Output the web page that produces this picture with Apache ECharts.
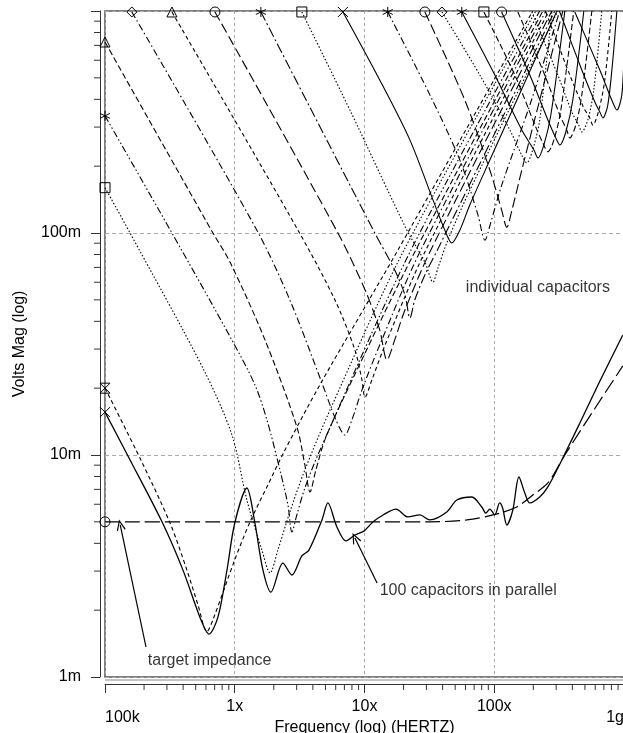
<!DOCTYPE html>
<html>
<head>
<meta charset="utf-8">
<script src="https://cdn.jsdelivr.net/npm/echarts@6/dist/echarts.min.js"></script>
<style>
  html, body { margin: 0; padding: 0; background: #fff; }
  #chart { width: 623px; height: 733px; }
</style>
</head>
<body>
<div id="chart"></div>
<script>
// Impedance magnitude sweeps: each trace is a list of [frequency (Hz), magnitude (V)] pairs.

// 100 capacitors in parallel (solid)
const parallel100 = [
  [1e5, 0.0156], [1.56e5, 0.0095], [2.75e5, 0.0050], [3.99e5, 0.00303], [5.39e5, 0.00186],
  [6.33e5, 0.00156], [7.42e5, 0.00186], [8.71e5, 0.00303], [1.0e6, 0.00494], [1.24e6, 0.0071],
  [1.43e6, 0.00494], [1.65e6, 0.00303], [1.90e6, 0.00241], [2.35e6, 0.00326], [2.76e6, 0.00288],
  [3.29e6, 0.00351], [3.73e6, 0.00373], [4.70e6, 0.0051], [5.22e6, 0.00608], [6.13e6, 0.00474],
  [7.19e6, 0.0041], [8.44e6, 0.00436], [9.89e6, 0.00454], [1.16e7, 0.00499], [1.39e7, 0.00537],
  [1.75e7, 0.00571], [2.16e7, 0.00526], [2.67e7, 0.00537], [3.19e7, 0.0051], [4.31e7, 0.00554],
  [5.15e7, 0.00627], [6.72e7, 0.00647], [8.02e7, 0.00583], [8.61e7, 0.00548], [9.25e7, 0.00571],
  [1.01e8, 0.00537], [1.10e8, 0.00608], [1.16e8, 0.00577], [1.25e8, 0.00484], [1.39e8, 0.00565],
  [1.55e8, 0.00796], [1.72e8, 0.00674], [1.88e8, 0.00608], [2.24e8, 0.00647], [2.59e8, 0.00718],
  [3.32e8, 0.0095], [4.56e8, 0.0139], [6.51e8, 0.0215], [9.79e8, 0.0347]
];

// Target impedance (long dash)
const targetImpedance = [
  [1e5, 0.005], [1e6, 0.005], [1e7, 0.005], [3.19e7, 0.005], [6.15e7, 0.0051], [9.75e7, 0.00537],
  [1.49e8, 0.00583], [1.98e8, 0.0066], [2.59e8, 0.00748], [3.50e8, 0.010], [5.96e8, 0.0162], [9.79e8, 0.0252]
];

// Individual capacitors
const capA = [[1e5, 0.020], [1.89e5, 0.0095], [3.17e5, 0.00494], [4.28e5, 0.00303], [5.21e5, 0.00211],
  [6.11e5, 0.0016], [6.79e5, 0.00181], [1.0e6, 0.00337], [1.31e6, 0.00499], [1.80e6, 0.00733],
  [2.39e6, 0.0103], [4.53e6, 0.0207], [1.81e7, 0.0838], [1.98e8, 1.0]];
const capB = [[1e5, 0.160], [1.56e5, 0.100], [5.79e5, 0.0241], [9.52e5, 0.0123], [1.24e6, 0.00627],
  [1.62e6, 0.00373], [1.87e6, 0.00294], [2.15e6, 0.00373], [2.66e6, 0.00554], [3.47e6, 0.00856],
  [5.41e6, 0.0159], [1.98e7, 0.0821], [2.09e8, 1.0]];
const capC = [[1e5, 0.337], [3.28e5, 0.100], [9.69e5, 0.0323], [1.43e6, 0.0207], [1.77e6, 0.0144],
  [2.23e6, 0.00856], [2.57e6, 0.00596], [2.76e6, 0.0045], [3.01e6, 0.00537], [3.47e6, 0.0071],
  [4.53e6, 0.0105], [2.24e7, 0.0821], [2.24e8, 1.0]];
const capD = [[1e5, 0.725], [6.79e5, 0.100], [9.19e5, 0.074], [1.71e6, 0.033], [3.01e6, 0.0134],
  [3.47e6, 0.00902], [3.80e6, 0.00681], [4.22e6, 0.00856], [4.95e6, 0.0117], [7.06e6, 0.0186],
  [2.44e7, 0.0821], [2.37e8, 1.0]];
const capE = [[1.61e5, 0.99], [1.48e6, 0.103], [2.66e6, 0.0499], [4.70e6, 0.0211], [6.02e6, 0.0144],
  [7.06e6, 0.0123], [8.00e6, 0.0144], [9.55e6, 0.0196], [1.31e7, 0.0313], [2.67e7, 0.0821], [2.50e8, 1.0]];
const capF = [[3.28e5, 0.99], [3.07e6, 0.103], [5.92e6, 0.0499], [8.44e6, 0.0297], [9.55e6, 0.0218],
  [1.01e7, 0.0182], [1.14e7, 0.0218], [1.44e7, 0.0313], [2.92e7, 0.0821], [2.64e8, 1.0]];
const capG = [[7.04e5, 0.99], [6.24e6, 0.100], [1.01e7, 0.0554], [1.31e7, 0.0366], [1.49e7, 0.0268],
  [1.71e7, 0.033], [2.05e7, 0.045], [3.19e7, 0.0821], [2.78e8, 1.0]];
const capH = [[1.59e6, 0.99], [1.20e7, 0.100], [1.71e7, 0.0681], [2.05e7, 0.0526], [2.24e7, 0.0414],
  [2.44e7, 0.0499], [2.92e7, 0.0647], [3.81e7, 0.0883], [2.93e8, 1.0]];
const capI = [[3.29e6, 0.99], [7.72e6, 0.358], [2.12e7, 0.103], [2.92e7, 0.074], [3.37e7, 0.0601],
  [3.68e7, 0.0695], [4.39e7, 0.0929], [6.49e7, 0.156], [3.09e8, 1.0]];
const capJ = [[6.82e6, 0.99], [1.31e7, 0.489], [2.24e7, 0.262], [3.37e7, 0.141], [4.16e7, 0.103],
  [4.71e7, 0.0902], [5.43e7, 0.103], [6.49e7, 0.134], [9.25e7, 0.213], [3.04e8, 1.0]];
const capK = [[1.51e7, 0.99], [3.19e7, 0.419], [5.43e7, 0.213], [7.48e7, 0.121], [8.47e7, 0.0929],
  [9.42e7, 0.112], [1.14e8, 0.164], [1.88e8, 0.377], [3.20e8, 1.0]];
const capL = [[2.92e7, 0.99], [5.93e7, 0.397], [9.25e7, 0.192], [1.14e8, 0.127], [1.25e8, 0.106],
  [1.37e8, 0.127], [1.63e8, 0.192], [2.24e8, 0.397], [3.38e8, 1.0]];
const capM = [[3.95e7, 0.99], [7.74e7, 0.515], [1.32e8, 0.291], [1.63e8, 0.224], [1.78e8, 0.207],
  [1.98e8, 0.237], [2.24e8, 0.323], [2.78e8, 1.0]];
const capN = [[5.62e7, 0.99], [1.01e8, 0.515], [1.63e8, 0.291], [2.02e8, 0.237], [2.17e8, 0.218],
  [2.41e8, 0.249], [2.73e8, 0.34], [3.50e8, 1.0]];
const capO = [[8.32e7, 0.99], [1.44e8, 0.515], [2.06e8, 0.306], [2.41e8, 0.249], [2.59e8, 0.232],
  [2.88e8, 0.262], [3.26e8, 0.358], [4.10e8, 1.0]];
const capP = [[1.14e8, 0.99], [1.88e8, 0.515], [2.59e8, 0.323], [2.98e8, 0.268], [3.20e8, 0.249],
  [3.56e8, 0.285], [4.03e8, 0.397], [4.90e8, 1.0]];
const capQ = [[1.52e8, 0.99], [2.45e8, 0.515], [3.20e8, 0.34], [3.62e8, 0.291], [3.82e8, 0.268],
  [4.25e8, 0.306], [4.73e8, 0.419], [5.65e8, 1.0]];
const capR = [[1.95e8, 0.99], [3.09e8, 0.515], [3.96e8, 0.351], [4.48e8, 0.306], [4.73e8, 0.285],
  [5.26e8, 0.323], [5.85e8, 0.441], [6.74e8, 1.0]];
const capS = [[2.50e8, 0.99], [3.82e8, 0.515], [4.90e8, 0.366], [5.45e8, 0.33], [5.75e8, 0.306],
  [6.40e8, 0.358], [7.11e8, 0.489], [8.05e8, 1.0]];
const capT = [[3.20e8, 0.99], [4.73e8, 0.542], [5.96e8, 0.389], [6.51e8, 0.351], [6.87e8, 0.33],
  [7.50e8, 0.377], [8.20e8, 0.602], [8.81e8, 1.0]];
const capU = [[4.18e8, 0.99], [6.51e8, 0.542], [8.05e8, 0.397], [8.81e8, 0.358], [9.62e8, 0.419], [1.0e9, 0.66]];

// Axis tick labels (SPICE suffixes)
const xTickLabels = { 5: '100k', 6: '1x', 7: '10x', 8: '100x', 9: '1g' };
const yTickLabels = { '-3': '1m', '-2': '10m', '-1': '100m', '0': '' };

// Annotations
const noteTexts = ['individual capacitors', '100 capacitors in parallel', 'target impedance'];
const noteAnchors = [[6.04e7, 0.0565], [1.31e7, 0.00244], [2.14e5, 0.00118]];
const arrowTails = [[2.07e5, 0.001365], [1.25e7, 0.00265]];
const arrowHeads = [[1.31e5, 0.00484], [8.44e6, 0.00423]];

// ---------- styling ----------
const FONT = 'Liberation Sans, Arial, Helvetica, sans-serif';
const TEXT_COLOR = '#000';
const X_AXIS_OFFSET = 7;
const Y_AXIS_OFFSET = 5;
const MINOR_LEN = 6;

const DASH = {
  solid: 'solid',
  short: [4, 3],
  med: [6, 3],
  long: [10, 4],
  dot: [1.5, 2],
  dashDot: [7, 3, 1.5, 3],
  dashDotDot: [7, 2.5, 1.5, 2.5, 1.5, 2.5],
  longDashDot: [10, 3, 2, 3],
  target: [15, 5]
};

const MARK = {
  cross: 'path://M0,0 L10,10 M10,0 L0,10',
  star: 'path://M5,0 L5,10 M0,2.5 L10,7.5 M0,7.5 L10,2.5',
  hourglass: 'path://M0,0 L10,0 L0,10 L10,10 Z',
  triangle: 'triangle',
  circle: 'circle',
  rect: 'rect',
  diamond: 'diamond'
};

function trace(data, dash, marker, width) {
  const pts = data.map((p, i) => (i === 0 && marker)
    ? { value: p, symbol: marker, symbolSize: 10 }
    : { value: p });
  return {
    type: 'line',
    data: pts,
    symbol: 'none',
    showSymbol: true,
    smooth: 0.3,
    clip: true,
    silent: true,
    z: 3,
    lineStyle: { color: '#000', width: width || 1.1, type: dash },
    itemStyle: { color: 'rgba(0,0,0,0)', borderColor: '#000', borderWidth: 1 }
  };
}

// Minor ticks of a log axis: 2..9 within every decade of the range
function minorTickValues(lo, hi) {
  const out = [];
  for (let e = lo; e < hi; e++) {
    for (let m = 2; m <= 9; m++) out.push(m * Math.pow(10, e));
  }
  return out;
}

const chart = echarts.init(document.getElementById('chart'), null, { renderer: 'canvas' });

const axisCommon = {
  type: 'log',
  logBase: 10,
  axisLine: { show: true, lineStyle: { color: '#333', width: 1 } },
  axisTick: { show: true, length: 9, lineStyle: { color: '#333', width: 1 } },
  minorTick: { show: false },
  nameTextStyle: { fontFamily: FONT, fontSize: 16, color: TEXT_COLOR }
};

const series = [
  trace(parallel100, DASH.solid, MARK.cross, 1.3),
  trace(targetImpedance, DASH.target, MARK.circle, 1.2),
  trace(capA, DASH.short, MARK.hourglass),
  trace(capB, DASH.dot, MARK.rect),
  trace(capC, DASH.dashDotDot, MARK.star),
  trace(capD, DASH.med, MARK.triangle),
  trace(capE, DASH.dashDot, MARK.diamond),
  trace(capF, DASH.short, MARK.triangle),
  trace(capG, DASH.long, MARK.circle),
  trace(capH, DASH.longDashDot, MARK.star),
  trace(capI, DASH.dot, MARK.rect),
  trace(capJ, DASH.solid, MARK.cross),
  trace(capK, DASH.dashDot, MARK.star),
  trace(capL, DASH.long, MARK.circle),
  trace(capM, DASH.dot, MARK.diamond),
  trace(capN, DASH.solid, MARK.star),
  trace(capO, DASH.med, MARK.rect),
  trace(capP, DASH.solid, MARK.circle),
  trace(capQ, DASH.med, null),
  trace(capR, DASH.dot, null),
  trace(capS, DASH.short, null),
  trace(capT, DASH.solid, null),
  trace(capU, DASH.solid, null)
];

// minor ticks drawn against the axis scales
series.push({
  type: 'custom',
  silent: true,
  clip: false,
  data: minorTickValues(5, 9).map(v => [v, 1e-3]),
  renderItem: (params, api) => {
    const p = api.coord([api.value(0), api.value(1)]);
    const y0 = p[1] + X_AXIS_OFFSET;
    return { type: 'line', shape: { x1: p[0], y1: y0, x2: p[0], y2: y0 + MINOR_LEN },
      style: { stroke: '#333', lineWidth: 1 } };
  }
});
series.push({
  type: 'custom',
  silent: true,
  clip: false,
  data: minorTickValues(-3, 0).map(v => [1e5, v]),
  renderItem: (params, api) => {
    const p = api.coord([api.value(0), api.value(1)]);
    const x0 = p[0] - Y_AXIS_OFFSET;
    return { type: 'line', shape: { x1: x0 - MINOR_LEN, y1: p[1], x2: x0, y2: p[1] },
      style: { stroke: '#333', lineWidth: 1 } };
  }
});
// second rule just under the bottom frame edge
series.push({
  type: 'custom',
  silent: true,
  clip: false,
  data: [[1e5, 1e-3, 1e9]],
  renderItem: (params, api) => {
    const a = api.coord([api.value(0), api.value(1)]);
    const b = api.coord([api.value(2), api.value(1)]);
    return { type: 'line', shape: { x1: a[0], y1: a[1] + 3, x2: b[0], y2: a[1] + 3 },
      style: { stroke: '#888', lineWidth: 1 } };
  }
});

// annotation texts and arrows
series.push({
  type: 'scatter',
  silent: true,
  symbolSize: 0,
  z: 5,
  data: noteAnchors.map((a, i) => ({ value: a, name: noteTexts[i] })),
  label: {
    show: true, position: 'right', distance: 0,
    formatter: p => p.name,
    fontFamily: FONT, fontSize: 16, color: TEXT_COLOR
  },
  markLine: {
    silent: true,
    animation: false,
    label: { show: false },
    lineStyle: { color: '#000', width: 1.2, type: 'solid' },
    symbolSize: [9, 11],
    data: arrowTails.map((t, i) => [
      { coord: t, symbol: 'none' },
      { coord: arrowHeads[i], symbol: 'path://M5,0 L10,10 L8.8,10.6 L5,2.6 L1.2,10.6 L0,10 Z' }
    ])
  }
});

chart.setOption({
  animation: false,
  backgroundColor: '#fff',
  grid: {
    left: 105, top: 11, width: 519, height: 666,
    show: true, borderColor: '#555', borderWidth: 1.5,
    outerBoundsMode: 'none', containLabel: false
  },
  xAxis: [
    Object.assign({}, axisCommon, {
      min: 1e5, max: 1e9, position: 'bottom', offset: X_AXIS_OFFSET,
      name: 'Frequency (log) (HERTZ)', nameLocation: 'middle', nameGap: 32,
      splitLine: { show: true, lineStyle: { color: '#aaa', width: 1, type: [3, 3] } },
      axisLabel: {
        show: true, margin: 15, showMinLabel: true, showMaxLabel: true,
        fontFamily: FONT, fontSize: 16, color: TEXT_COLOR,
        formatter: v => {
          const e = Math.round(Math.log10(v));
          return (e === 5 || e === 9) ? '' : (xTickLabels[e] || '');
        }
      }
    }),
    Object.assign({}, axisCommon, {
      min: 1e5, max: 1e9, position: 'bottom', offset: X_AXIS_OFFSET,
      axisLine: { show: false }, axisTick: { show: false }, splitLine: { show: false },
      axisLabel: {
        show: true, margin: 26, showMinLabel: true, showMaxLabel: true,
        alignMinLabel: 'left', alignMaxLabel: 'right',
        fontFamily: FONT, fontSize: 16, color: TEXT_COLOR,
        formatter: v => {
          const e = Math.round(Math.log10(v));
          return (e === 5 || e === 9) ? xTickLabels[e] : '';
        }
      }
    })
  ],
  yAxis: Object.assign({}, axisCommon, {
    min: 1e-3, max: 1, position: 'left', offset: Y_AXIS_OFFSET,
    name: 'Volts Mag (log)', nameLocation: 'middle', nameGap: 72,
    splitLine: { show: true, lineStyle: { color: '#aaa', width: 1, type: [4, 3] } },
    axisLabel: {
      show: true, margin: 19, showMinLabel: true, showMaxLabel: true,
      fontFamily: FONT, fontSize: 16, color: TEXT_COLOR,
      formatter: v => {
        const e = Math.round(Math.log10(v));
        return yTickLabels[String(e)] || '';
      }
    }
  }),
  series: series
});
</script>
</body>
</html>
